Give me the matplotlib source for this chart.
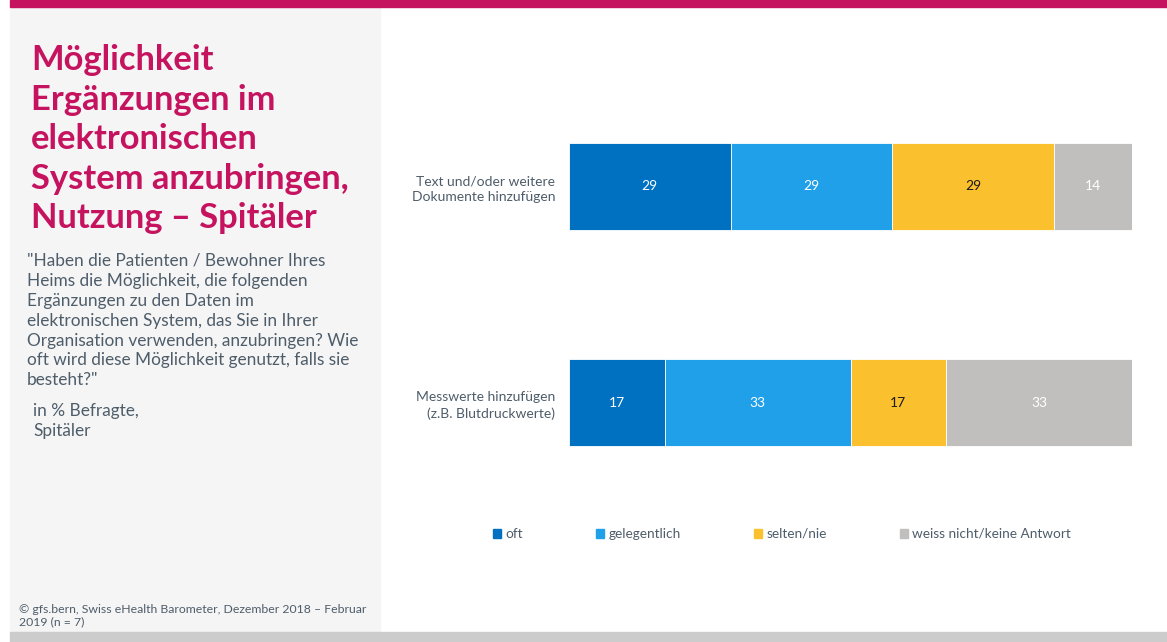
import numpy as np
import matplotlib.pyplot as plt
from matplotlib.patches import Patch, Rectangle

# data
categories = ["Text und/oder weitere\nDokumente hinzufügen",
              "Messwerte hinzufügen\n(z.B. Blutdruckwerte)"]
series = ["oft", "gelegentlich", "selten/nie", "weiss nicht/keine Antwort"]
oft = [29, 17]
gelegentlich = [29, 33]
selten = [29, 17]
weiss_nicht = [14, 33]

colors = ["#0070C0", "#1FA0E8", "#FBC02D", "#C0BFBD"]
label_colors = ["white", "white", "#1a1a1a", "white"]
magenta = "#C5135F"
text_grey = "#4E5D6A"

plt.rcParams['font.family'] = ['Lato', 'DejaVu Sans']

fig = plt.figure(figsize=(11.67, 6.42), dpi=100)
W, H = 1167, 642

def px(x, y):
    return x / W, 1 - y / H

# background frames
fig.patches.append(Rectangle((10 / W, 10 / H), 370 / W, 1 - 17 / H,
                             transform=fig.transFigure, color="#F5F5F5", zorder=0))
fig.patches.append(Rectangle((10 / W, 1 - 7 / H), 1 - 10 / W, 7 / H,
                             transform=fig.transFigure, color=magenta, zorder=1))
fig.patches.append(Rectangle((10 / W, 0), 1 - 10 / W, 10 / H,
                             transform=fig.transFigure, color="#CCCCCC", zorder=1))

# left text
title = "Möglichkeit\nErgänzungen im\nelektronischen\nSystem anzubringen,\nNutzung – Spitäler"
fig.text(*px(31, 44), title, color=magenta, fontsize=24.8, fontweight='bold',
         va='top', ha='left', linespacing=1.29)
question = ('"Haben die Patienten / Bewohner Ihres\nHeims die Möglichkeit, die folgenden\n'
            'Ergänzungen zu den Daten im\nelektronischen System, das Sie in Ihrer\n'
            'Organisation verwenden, anzubringen? Wie\noft wird diese Möglichkeit genutzt, falls sie\n'
            'besteht?"')
fig.text(*px(27, 253), question, color=text_grey, fontsize=12.4, va='top', ha='left',
         linespacing=1.3)
fig.text(*px(33, 403), "in % Befragte,\nSpitäler", color=text_grey, fontsize=12.4,
         va='top', ha='left', linespacing=1.3)
fig.text(*px(19, 604), "© gfs.bern, Swiss eHealth Barometer, Dezember 2018 – Februar\n2019 (n = 7)",
         color=text_grey, fontsize=8.8, va='top', ha='left', linespacing=1.15)

# chart
ax = fig.add_axes([569 / W, 1 - 511 / H, 563 / W, 433 / H])
data = np.array([oft, gelegentlich, selten, weiss_nicht], dtype=float)
share = data / data.sum(axis=0) * 100
y = np.arange(len(categories))
left = np.zeros(len(categories))
for i, name in enumerate(series):
    bars = ax.barh(y, share[i], left=left, height=0.4, color=colors[i],
                   edgecolor="white", linewidth=0.6, label=name)
    for j, b in enumerate(bars):
        ax.text(left[j] + share[i][j] / 2, y[j], str(int(data[i][j])),
                ha='center', va='center', color=label_colors[i], fontsize=10)
    left += share[i]

ax.set_xlim(0, 100)
ax.set_ylim(1.5, -0.5)
ax.set_yticks(y)
ax.set_yticklabels(categories, fontsize=10, color=text_grey, linespacing=1.35)
ax.tick_params(axis='y', length=0, pad=10)
ax.set_xticks([])
for s in ax.spines.values():
    s.set_visible(False)
ax.patch.set_alpha(0)

handles = [Patch(color=c, label=n) for c, n in zip(colors, series)]
leg = fig.legend(handles=handles, loc='center left', bbox_to_anchor=(486 / W, 1 - 534 / H),
                 ncol=4, frameon=False, fontsize=9.8, handlelength=0.6, handleheight=0.6,
                 handletextpad=0.3, columnspacing=5.4, borderpad=0)
for t in leg.get_texts():
    t.set_color(text_grey)

fig.savefig("out.png", dpi=100)
